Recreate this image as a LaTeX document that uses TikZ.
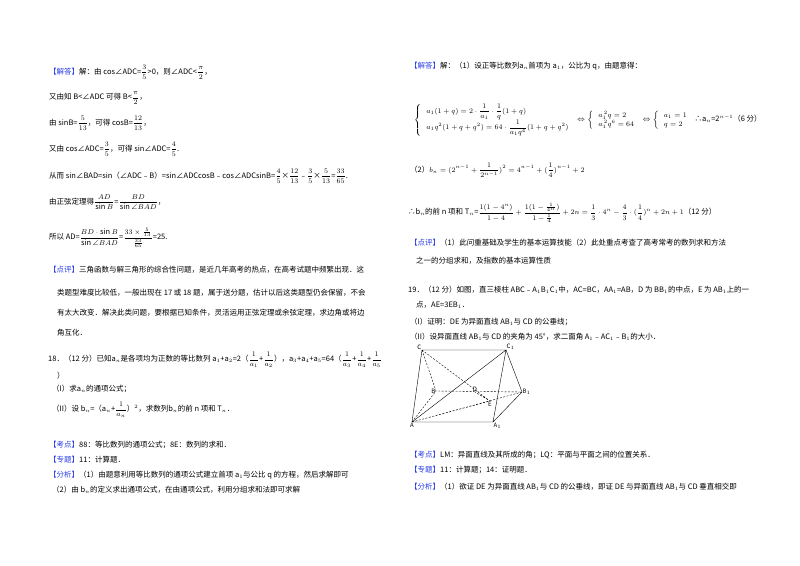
\documentclass[tikz,border=0pt]{standalone}
\usepackage{amsmath,amssymb}
\usepackage{fontspec}
\setmainfont{Noto Sans CJK SC}
\newcommand{\fr}[2]{$\dfrac{#1}{#2}$}
\newcommand{\kw}[1]{\textcolor{hl}{#1}}
\definecolor{hl}{RGB}{40,60,230}
\begin{document}
\begin{tikzpicture}[x=1pt,y=-1pt,
  t/.style={anchor=west,inner sep=0pt,font=\fontsize{7.5}{9}\selectfont},
  lab/.style={inner sep=0.5pt,font=\fontsize{6}{7}\selectfont\itshape},
  dl/.style={dashed,dash pattern=on 2pt off 1.5pt,thin},
  sl/.style={thin}]
\useasboundingbox (0,0) rectangle (800,565);
% left column
\node[t] (l1) at (49,72) {\kw{【解答】}解：由 cos∠ADC=\fr{3}{5}>0，则∠ADC<\fr{\pi}{2}，};
\node[t] (l2) at (49,98) {又由知 B<∠ADC 可得 B<\fr{\pi}{2}，};
\node[t] (l3) at (49,123) {由 sinB=\fr{5}{13}，可得 cosB=\fr{12}{13}，};
\node[t] (l4) at (49,149) {又由 cos∠ADC=\fr{3}{5}，可得 sin∠ADC=\fr{4}{5}.};
\node[t] (l5) at (49,176) {从而 sin∠BAD=sin（∠ADC﹣B）=sin∠ADCcosB﹣cos∠ADCsinB=\fr{4}{5}×\fr{12}{13}﹣\fr{3}{5}×\fr{5}{13}=\fr{33}{65}.};
\node[t] (l6) at (49,202) {由正弦定理得\fr{AD}{\sin B}=\fr{BD}{\sin\angle BAD}，};
\node[t] (l7) at (49,238) {所以 AD=\fr{BD\cdot\sin B}{\sin\angle BAD}=$\dfrac{33\times\frac{5}{13}}{\frac{33}{65}}$=25.};
\node[t] (l8) at (49,270) {\kw{【点评】}三角函数与解三角形的综合性问题，是近几年高考的热点，在高考试题中频繁出现．这};
\node[t] (l9) at (57,293) {类题型难度比较低，一般出现在 17 或 18 题，属于送分题，估计以后这类题型仍会保留，不会};
\node[t] (l10) at (57,313) {有太大改变．解决此类问题，要根据已知条件，灵活运用正弦定理或余弦定理，求边角或将边};
\node[t] (l11) at (57,333) {角互化．};
\node[t] (l12) at (48,360) {18．（12 分）已知{a$_n$}是各项均为正数的等比数列 a$_1$+a$_2$=2（\fr{1}{a_1}+\fr{1}{a_2}），a$_3$+a$_4$+a$_5$=64（\fr{1}{a_3}+\fr{1}{a_4}+\fr{1}{a_5}};
\node[t] (l13) at (57,376) {）};
\node[t] (l14) at (52,389) {（I）求{a$_n$}的通项公式；};
\node[t] (l15) at (52,410) {（II）设 b$_n$=（a$_n$+\fr{1}{a_n}）$^2$，求数列{b$_n$}的前 n 项和 T$_n$．};
\node[t] (l16) at (49,445) {\kw{【考点】}88：等比数列的通项公式；8E：数列的求和．};
\node[t] (l17) at (49,460) {\kw{【专题】}11：计算题．};
\node[t] (l18) at (49,475) {\kw{【分析】}（1）由题意利用等比数列的通项公式建立首项 a$_1$与公比 q 的方程，然后求解即可};
\node[t] (l19) at (52,490) {（2）由 b$_n$的定义求出通项公式，在由通项公式，利用分组求和法即可求解};
% right column
\node[t] (r1) at (410,66) {\kw{【解答】}解：（1）设正等比数列{a$_n$}首项为 a$_1$，公比为 q，由题意得：};
\node[t] (r2) at (414,120) {$\left\{\begin{array}{l}a_1(1+q)=2\cdot\dfrac{1}{a_1}\cdot\dfrac{1}{q}(1+q)\\[4pt] a_1q^2(1+q+q^2)=64\cdot\dfrac{1}{a_1q^4}(1+q+q^2)\end{array}\right.\Leftrightarrow\left\{\begin{array}{l}a_1^{\,2}q=2\\ a_1^{\,2}q^6=64\end{array}\right.\Leftrightarrow\left\{\begin{array}{l}a_1=1\\ q=2\end{array}\right.$ ∴a$_n$=2$^{n-1}$（6 分）};
\node[t] (r3) at (410,170) {（2）$\displaystyle b_n=(2^{n-1}+\frac{1}{2^{n-1}})^2=4^{n-1}+(\frac{1}{4})^{n-1}+2$};
\node[t] (r4) at (408,213) {∴b$_n$的前 n 项和 T$_n$=$\displaystyle\frac{1(1-4^n)}{1-4}+\frac{1(1-\frac{1}{4^n})}{1-\frac{1}{4}}+2n=\frac{1}{3}\cdot4^n-\frac{4}{3}\cdot(\frac{1}{4})^n+2n+1$（12 分）};
\node[t] (r5) at (410,243) {\kw{【点评】}（1）此问重基础及学生的基本运算技能（2）此处重点考查了高考常考的数列求和方法};
\node[t] (r6) at (416,261) {之一的分组求和，及指数的基本运算性质};
\node[t] (r7) at (408,290) {19．（12 分）如图，直三棱柱 ABC﹣A$_1$B$_1$C$_1$中，AC=BC，AA$_1$=AB，D 为 BB$_1$的中点，E 为 AB$_1$上的一};
\node[t] (r8) at (416,305) {点，AE=3EB$_1$．};
\node[t] (r9) at (410,322) {（I）证明：DE 为异面直线 AB$_1$与 CD 的公垂线；};
\node[t] (r10) at (410,337) {（II）设异面直线 AB$_1$与 CD 的夹角为 45°，求二面角 A$_1$﹣AC$_1$﹣B$_1$的大小．};
\node[t] (r11) at (410,455) {\kw{【考点】}LM：异面直线及其所成的角；LQ：平面与平面之间的位置关系．};
\node[t] (r12) at (410,470) {\kw{【专题】}11：计算题；14：证明题．};
\node[t] (r13) at (410,487) {\kw{【分析】}（1）欲证 DE 为异面直线 AB$_1$与 CD 的公垂线，即证 DE 与异面直线 AB$_1$与 CD 垂直相交即};
% figure
\coordinate (C) at (422,350);
\coordinate (C1) at (506,350);
\coordinate (B) at (436,391);
\coordinate (B1) at (522,392);
\coordinate (D) at (475,392);
\coordinate (E) at (490,401);
\coordinate (A) at (412,422);
\coordinate (A1) at (493,422);
\draw[sl] (C)--(C1)--(B1)--(A1)--(A)--(C) (A)--(C1)--(A1);
\draw[dl] (C)--(B)--(B1) (A)--(B) (C)--(E)--(D) (A)--(B1) (A)--(E);
\node[lab,above left] (nC) at (C) {C};
\node[lab,above right] (nC1) at (C1) {C$_1$};
\node[lab,left] (nB) at (B) {B};
\node[lab,right] (nB1) at (B1) {B$_1$};
\node[lab,above] (nD) at (D) {D};
\node[lab,below] (nE) at (E) {E};
\node[lab,below] (nA) at (A) {A};
\node[lab,below right] (nA1) at (A1) {A$_1$};
\end{tikzpicture}
\end{document}
